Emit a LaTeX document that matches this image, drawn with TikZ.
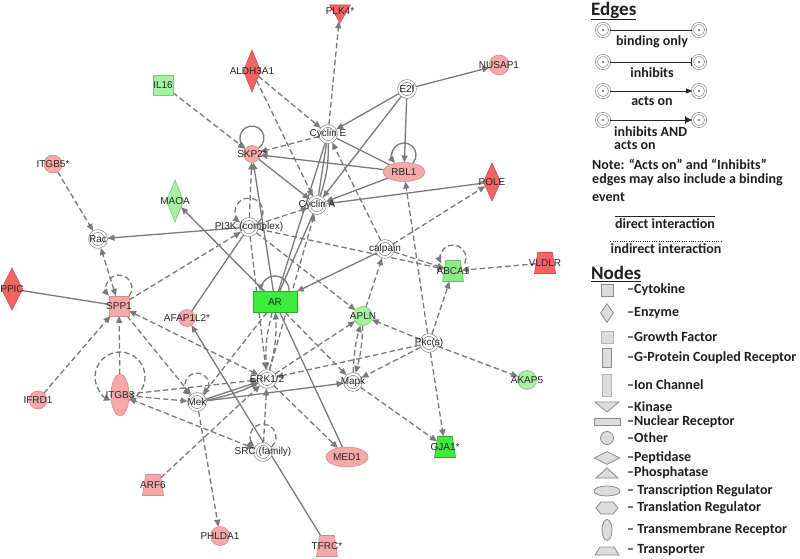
\documentclass[tikz,border=0pt]{standalone}
\usepackage{fontspec}
\setmainfont{Liberation Sans}
\newfontfamily\legfont{Carlito}
\usetikzlibrary{arrows.meta,shapes.geometric,calc,backgrounds}
\definecolor{cEdge}{HTML}{7A7A7A}
\definecolor{cPink}{HTML}{F5A8A8}
\definecolor{cPinkD}{HTML}{D98C8C}
\definecolor{cRed} {HTML}{F26464}
\definecolor{cRedD}{HTML}{D24A4A}
\definecolor{cLtG} {HTML}{A6F0A2}
\definecolor{cLtGD}{HTML}{7ACB76}
\definecolor{cMidG}{HTML}{8DE98A}
\definecolor{cMidGD}{HTML}{62C25E}
\definecolor{cGrn} {HTML}{3DEB3D}
\definecolor{cGrnD}{HTML}{2AAE2A}
\definecolor{cRing}{HTML}{8C8C8C}
\definecolor{cLeg} {HTML}{DCDCDC}
\definecolor{cLegD}{HTML}{8A8A8A}
\definecolor{cLegL}{HTML}{B4B4B4}
\tikzset{
  >={Triangle[length=7pt,width=6pt]},
  nlab/.style ={font=\fontsize{10}{12}\selectfont,text=black!85,inner sep=0pt},
  gnode/.style={inner sep=0pt,outer sep=0pt,label={[nlab]center:#1}},
  oth/.style  ={gnode=#1,circle,minimum size=18pt},
  cplx/.style ={gnode=#1,circle,minimum size=16pt,fill=white,draw=cRing,
                line width=.7pt,double=white,double distance=2pt,outer sep=1.5pt},
  cyt/.style  ={gnode=#1,rectangle,minimum size=20pt},
  enz/.style  ={gnode=#1,diamond,minimum width=17pt,minimum height=42pt},
  kin/.style  ={gnode=#1,regular polygon,regular polygon sides=3,
                shape border rotate=180,minimum size=24pt},
  nucr/.style ={gnode=#1,rectangle,minimum width=44pt,minimum height=21pt},
  treg/.style ={gnode=#1,ellipse,minimum width=42pt,minimum height=19pt},
  tmr/.style  ={gnode=#1,ellipse,minimum width=18pt,minimum height=42pt},
  trp/.style  ={gnode=#1,trapezium,trapezium stretches=true,trapezium angle=78,
                inner sep=1pt,minimum width=21pt,minimum height=21pt},
  pinkn/.style={fill=cPink,draw=cPinkD,line width=.6pt},
  redn/.style ={fill=cRed,draw=cRedD,line width=.6pt},
  ltgn/.style ={fill=cLtG,draw=cLtGD,line width=.6pt},
  midgn/.style={fill=cMidG,draw=cMidGD,line width=.6pt},
  grnn/.style ={fill=cGrn,draw=cGrnD,line width=.6pt},
  sol/.style  ={draw=cEdge,line width=1.3pt},
  dsh/.style  ={sol,dash pattern=on 5.5pt off 3pt},
  leghd/.style={font=\legfont\bfseries\fontsize{19}{22}\selectfont,inner sep=0pt,text=black!88},
  legtx/.style={font=\legfont\bfseries\fontsize{14}{16}\selectfont,inner sep=0pt,text=black!88},
  legc/.style ={circle,minimum size=13pt,inner sep=0pt,fill=white,draw=cRing,line width=.7pt,
                double=white,double distance=1.4pt,
                path picture={\fill[black!60] (path picture bounding box.center) circle[radius=1.1pt];}},
  legln/.style={draw=black!85,line width=.9pt},
  tipB/.style ={},
  tipI/.style ={-{Bar[width=8pt,line width=1pt]}},
  tipA/.style ={-{Triangle[length=6pt,width=5pt]}},
  tipIA/.style={-{Bar[width=8pt,line width=1pt]Triangle[length=6pt,width=5pt]}},
  legsh/.style={fill=cLeg,draw=cLegD,line width=.8pt,inner sep=0pt},
}
% node, style, radius, rise above centre, half opening angle
\newcommand\selfloop[5]{%
  \draw[#2] ($(#1.center)+(0,#4)+(-#5:#3)$) arc[start angle=-#5,end angle=180+#5,radius=#3];}

\begin{document}
\begin{tikzpicture}[x=1pt,y=1pt]
\useasboundingbox (0,0) rectangle (800,-559);

% molecules
\node[kin=PLK4*,redn]                       (plk)       at (340,-11)  {};
\node[enz=ALDH3A1,redn]                     (aldh)      at (252,-71)  {};
\node[oth=NUSAP1,pinkn,minimum size=20pt]   (nusap)     at (499,-65)  {};
\node[cyt=IL16,ltgn]                        (il16)      at (163,-85)  {};
\node[cplx=E2f]                             (etwo)      at (407,-89)  {};
\node[cplx={Cyclin E}]                      (cyce)      at (328,-134) {};
\node[oth=SKP2*,pinkn,minimum size=17pt]    (skp)       at (252,-154) {};
\node[treg=RBL1,pinkn]                      (rbl)       at (404,-172) {};
\node[enz=POLE,redn,minimum height=38pt]    (pole)      at (492,-182) {};
\node[oth=ITGB5*,pinkn]                     (itgbfive)  at (53,-164)  {};
\node[enz=MAOA,ltgn]                        (maoa)      at (175,-201) {};
\node[cplx={Cyclin A}]                      (cyca)      at (317,-205) {};
\node[cplx={PI3K (complex)}]                (pik)       at (249,-227) {};
\node[cplx=Rac]                             (rac)       at (98,-239)  {};
\node[cplx=calpain]                         (calp)      at (385,-249) {};
\node[trp=ABCA1,midgn]                      (abca)      at (453,-271) {};
\node[trp=VLDLR,redn]                       (vldlr)     at (545,-263) {};
\node[enz=PPIC,redn,minimum width=21pt]     (ppic)      at (12,-289)  {};
\node[cyt=SPP1,pinkn]                       (spp)       at (119,-306) {};
\node[oth=AFAP1L2*,pinkn,minimum size=17pt] (afap)      at (187,-318) {};
\node[nucr=AR,grnn]                         (ar)        at (275,-302) {};
\node[oth=APLN,ltgn,minimum size=19pt]      (apln)      at (363,-316) {};
\node[cplx=Pkc(s)]                          (pkc)       at (429,-343) {};
\node[oth=AKAP5,ltgn,minimum size=19pt]     (akap)      at (527,-380) {};
\node[cplx=ERK1/2]                          (erk)       at (267,-379) {};
\node[cplx=Mapk]                            (mapk)      at (353,-382) {};
\node[cplx=Mek]                             (mek)       at (197,-402) {};
\node[tmr=ITGB3,pinkn]                      (itgbthree) at (120,-395) {};
\node[oth=IFRD1,pinkn]                      (ifrd)      at (38,-400)  {};
\node[cplx={SRC (family)}]                  (src)       at (263,-452) {};
\node[trp=GJA1*,grnn]                       (gja)       at (445,-447) {};
\node[treg=MED1,pinkn,minimum height=20pt]  (med)       at (347,-457) {};
\node[trp=ARF6,pinkn]                       (arf)       at (153,-485) {};
\node[oth=PHLDA1,pinkn,minimum size=19pt]   (phlda)     at (220,-536) {};
\node[trp=TFRC*,pinkn]                      (tfrc)      at (327,-546) {};

\begin{scope}[on background layer]
\fill[white] (0,0) rectangle (800,-559);
% solid, acts on
\foreach \a/\b in {etwo/nusap,etwo/cyce,etwo/rbl,etwo/cyca,rbl/skp,rbl/cyca,pole/cyca,
                   skp/cyca,ar/skp,pik/rac,ar/maoa,calp/ar,mek/erk,mek/mapk,tfrc/afap}
  \draw[sol,->] (\a) -- (\b);
% solid, binding only
\foreach \a/\b in {cyce/rbl,cyce/cyca,cyce/ar,cyca/ar,ppic/spp,afap/pik,ar/med}
  \draw[sol] (\a) -- (\b);
% dashed, acts on
\foreach \a/\b in {il16/skp,aldh/cyce,aldh/cyca,cyce/plk,cyce/skp,calp/cyce,pik/skp,
                   pik/cyca,itgbfive/rac,spp/pik,pik/erk,pik/apln,pik/abca,calp/abca,
                   calp/pole,apln/calp,vldlr/abca,pkc/abca,pkc/rbl,pkc/apln,pkc/mapk,
                   pkc/erk,pkc/akap,pkc/gja,mapk/gja,ar/mapk,erk/apln,erk/cyca,ar/mek,
                   erk/med,spp/mek,ifrd/spp,itgbthree/spp,itgbthree/mek,itgbthree/erk,
                   arf/erk,mek/phlda,src/erk}
  \draw[dsh,->] (\a) -- (\b);
% dashed, both ways
\foreach \a/\b in {spp/rac,spp/erk,src/itgbthree}
  \draw[dsh,<->] (\a) -- (\b);
% parallel edges
\draw[sol]     (cyce) to[bend left=10] (cyca);
\draw[sol,->]  (mek)  to[bend right=7] (erk);
\draw[dsh,->]  (ar)   to[bend right=9] (erk);
\draw[dsh,->]  (erk)  to[bend right=9] (ar);
\draw[dsh,->]  (mapk) to[bend left=7]  (apln);
\draw[dsh,->]  (apln) to[bend left=7]  (mapk);
% self loops
\selfloop{skp}{sol,->}{12}{16}{56}
\selfloop{rbl}{sol,->}{12}{17}{42}
\selfloop{ar}{sol,->}{14}{12}{6}
\selfloop{pik}{dsh,->}{14}{15}{50}
\selfloop{abca}{dsh,->}{13}{13}{25}
\selfloop{spp}{dsh,->}{13}{18}{38}
\selfloop{itgbthree}{dsh,->}{25}{18}{69}
\selfloop{mek}{dsh,->}{12}{17}{54}
\selfloop{src}{dsh,->}{13}{15}{49}
\end{scope}

% legend: edges
\node[leghd,anchor=west] (edgeshd) at (591,-11) {\underline{Edges}};
\foreach \y/\t [count=\i] in {30/tipB,62/tipI,91/tipA,120/tipIA}{
  \node[legc] (la\i) at (603,-\y) {};
  \node[legc] (lb\i) at (699,-\y) {};
  \draw[legln,\t] (la\i) -- (lb\i);}
\node[legtx] (lbind) at (652,-42)  {binding only};
\node[legtx] (linh)  at (652,-73)  {inhibits};
\node[legtx] (lact)  at (652,-101) {acts on};
\node[legtx,anchor=west] (linhact) at (614,-132) {inhibits AND};
\node[legtx,anchor=west] (linhact2) at (614,-145) {acts on};
\node[legtx,anchor=west] (note1) at (592,-164) {Note: “Acts on” and “Inhibits”};
\node[legtx,anchor=west] (note2) at (592,-180) {edges may also include a binding};
\node[legtx,anchor=west] (note3) at (592,-197) {event};
\node[legtx] (ldir) at (665,-224) {direct interaction};
\draw[legln] ([yshift=2pt]ldir.north west) -- ([yshift=2pt]ldir.north east);
\node[legtx] (lind) at (666,-249) {indirect interaction};
\draw[legln,dash pattern=on 1pt off 1.3pt] ([yshift=2pt]lind.north west) -- ([yshift=2pt]lind.north east);

% legend: nodes
\node[leghd,anchor=west] (nodeshd) at (591,-274) {\underline{Nodes}};
\node[legsh,rectangle,minimum size=12pt]                     (icyt) at (607,-290) {};
\node[legsh,diamond,minimum width=13pt,minimum height=19pt]  (ienz) at (607,-313) {};
\node[legsh,rectangle,minimum size=12pt,draw=cLegL]          (igf)  at (607,-337) {};
\node[legsh,rectangle,minimum width=9pt,minimum height=19pt] (igpc) at (607,-358) {};
\node[legsh,rectangle,minimum width=9pt,minimum height=22pt,draw=cLegL] (iion) at (607,-385) {};
\draw[legsh] (595,-402) -- (619,-402) -- (607,-412) -- cycle;
\node[legsh,rectangle,minimum width=26pt,minimum height=7pt] (inuc) at (607,-422) {};
\node[legsh,circle,minimum size=13pt]                        (ioth) at (607,-438) {};
\node[legsh,diamond,minimum width=26pt,minimum height=13pt]  (ipep) at (607,-458) {};
\draw[legsh] (596,-478) -- (607,-468) -- (618,-478) -- cycle;
\node[legsh,ellipse,minimum width=26pt,minimum height=10pt]  (itrc) at (607,-491) {};
\draw[legsh] (596,-508) -- (601,-502) -- (613,-502) -- (618,-508) -- (613,-514) -- (601,-514) -- cycle;
\node[legsh,ellipse,minimum width=10pt,minimum height=21pt]  (itmr) at (607,-530) {};
\draw[legsh] (595,-555) -- (600,-547) -- (614,-547) -- (619,-555) -- cycle;
\foreach \y/\t [count=\i] in {290/Cytokine,313/Enzyme,337/Growth Factor,
    358/G-Protein Coupled Receptor,385/Ion Channel,407/Kinase,422/Nuclear Receptor,
    438/Other,458/Peptidase,473/Phosphatase}
  \node[legtx,anchor=west] (nl\i) at (627,-\y) {–\t};
\foreach \y/\t [count=\i] in {491/Transcription Regulator,508/Translation Regulator,
    530/Transmembrane Receptor,550/Transporter}
  \node[legtx,anchor=west] (nm\i) at (627,-\y) {– \t};
\end{tikzpicture}
\end{document}
